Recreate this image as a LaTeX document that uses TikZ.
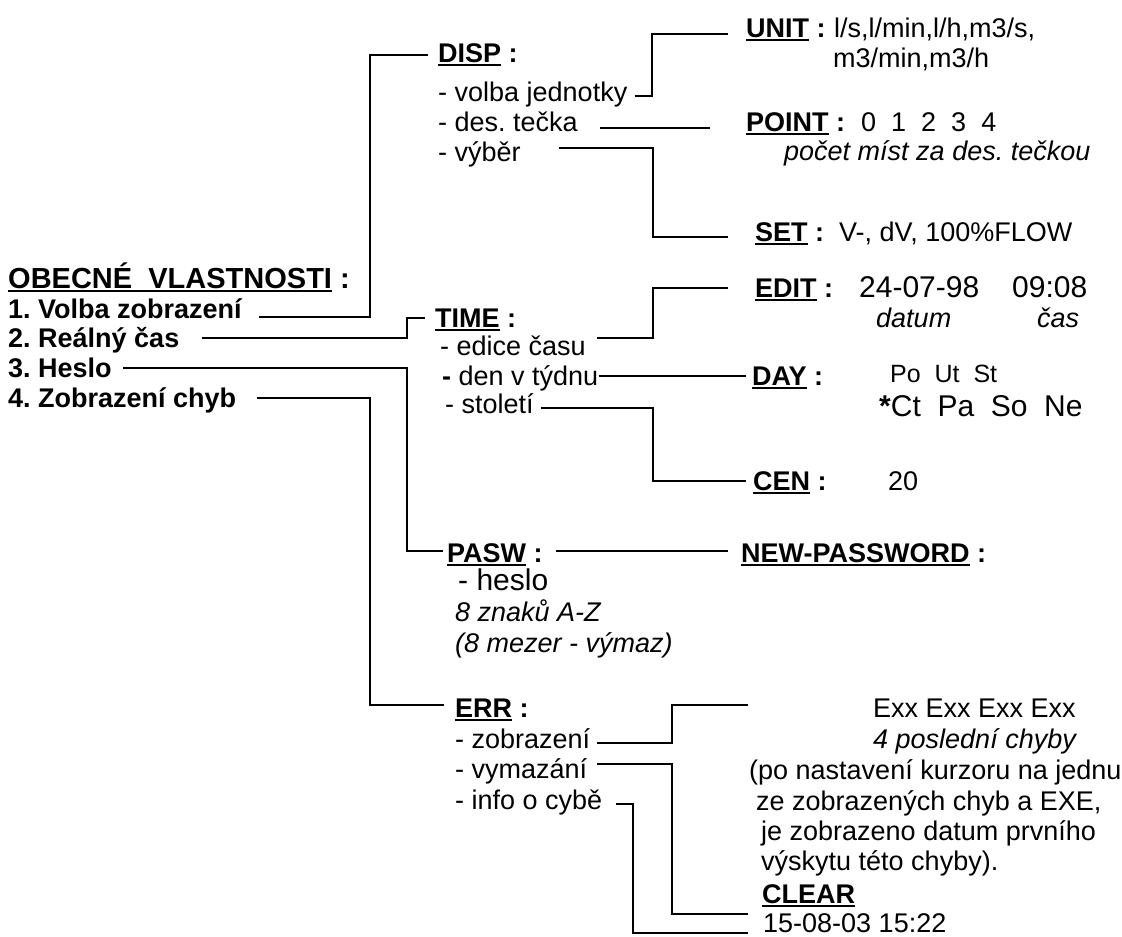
\documentclass[tikz,border=0pt]{standalone}
\usepackage{fontspec}
\setmainfont{Liberation Sans}
\usetikzlibrary{calc}
\frenchspacing

\newcommand\undl[1]{\setbox0\hbox{#1}\rlap{\rule[-3.5pt]{\wd0}{1.8pt}}\box0\relax}

\tikzset{
  lbl/.style={anchor=base west, inner sep=0pt, font=\fontsize{27}{32}\selectfont},
  hd/.style={lbl, font=\bfseries\fontsize{27}{32}\selectfont},
  big/.style={lbl, font=\fontsize{30}{36}\selectfont},
  small/.style={lbl, font=\fontsize{25}{30}\selectfont},
  note/.style={lbl, font=\itshape\fontsize{27}{32}\selectfont},
  wire/.style={line width=2.4pt}
}

\begin{document}
\begin{tikzpicture}[x=1pt,y=-1pt]
\useasboundingbox (0,0) rectangle (1122,937);

% hlavni menu
\node[hd, font=\bfseries\fontsize{29}{34}\selectfont] (obec) at (8,288) {\undl{OBECNÉ\ \ VLASTNOSTI} :};
\node[hd] (i1) at (8,318) {1. Volba zobrazení};
\node[hd] (i2) at (8,347) {2. Reálný čas};
\node[hd] (i3) at (8,377) {3. Heslo};
\node[hd] (i4) at (8,407) {4. Zobrazení chyb};

% DISP
\node[hd] (disp) at (438,62) {\undl{DISP} :};
\node[lbl] (d1) at (438,101) {- volba jednotky};
\node[lbl] (d2) at (438,131) {- des. tečka};
\node[lbl] (d3) at (438,161) {- výběr};

\node[hd] (unit) at (746,37) {\undl{UNIT} :};
\node[lbl] (unitv) at (834,37) {l/s,l/min,l/h,m3/s,};
\node[lbl] (unitw) at (833,67) {m3/min,m3/h};
\node[hd] (point) at (746,131) {\undl{POINT} :};
\node[lbl] (pointv) at (861,131) {0\ \ 1\ \ 2\ \ 3\ \ 4};
\node[note] (pocet) at (784,160) {počet míst za des. tečkou};
\node[hd] (set) at (755,241) {\undl{SET} :};
\node[lbl] (setv) at (839,241) {V-, dV, 100\%FLOW};

% TIME
\node[hd] (time) at (435,327) {\undl{TIME} :};
\node[lbl] (t1) at (440,355) {- edice času};
\node[lbl] (t2) at (442,385) {{\bfseries -} den v týdnu};
\node[lbl] (t3) at (445,413) {- století};

\node[hd] (edit) at (755,297) {\undl{EDIT} :};
\node[big] (editd) at (859,297) {24-07-98};
\node[big] (editt) at (1012,297) {09:08};
\node[note] (datum) at (876,327) {datum};
\node[note] (cas) at (1037,327) {čas};
\node[hd] (day) at (752,385) {\undl{DAY} :};
\node[small] (dny1) at (890,382) {Po\ \ Ut\ \ St};
\node[big] (dny2) at (879,416) {{\bfseries *}Ct\ \ Pa\ \ So\ \ Ne};
\node[hd] (cen) at (753,490) {\undl{CEN} :};
\node[lbl] (cenv) at (888,490) {20};

% PASW
\node[hd] (pasw) at (447,562) {\undl{PASW} :};
\node[hd] (newpw) at (741,562) {\undl{NEW-PASSWORD} :};
\node[big] (heslo) at (458,590) {- heslo};
\node[note] (znaku) at (455,621) {8 znaků A-Z};
\node[note] (mezer) at (455,652) {(8 mezer - výmaz)};

% ERR
\node[hd] (err) at (455,717) {\undl{ERR} :};
\node[lbl] (e1) at (455,748) {- zobrazení};
\node[lbl] (e2) at (455,778) {- vymazání};
\node[lbl] (e3) at (455,809) {- info o cybě};

\node[lbl] (exx) at (873,717) {Exx Exx Exx Exx};
\node[note] (posl) at (873,748) {4 poslední chyby};
\node[lbl] (r1) at (749,779) {(po nastavení kurzoru na jednu};
\node[lbl] (r2) at (756,810) {ze zobrazených chyb a EXE,};
\node[lbl] (r3) at (761,840) {je zobrazeno datum prvního};
\node[lbl] (r4) at (761,870) {výskytu této chyby).};
\node[hd] (clear) at (762,903) {\undl{CLEAR}};
\node[lbl] (date) at (763,932) {15-08-03 15:22};

% spojnice
\draw[wire] ($(i1.base east)+(17,-1)$) -| ($(disp.base west)+(-68,-7)$) -- ($(disp.base west)+(-10,-7)$);
\draw[wire] ($(i2.base east)+(22,-9)$) -| ($(time.base west)+(-28,-9)$) -- ($(time.base west)+(-10,-9)$);
\draw[wire] ($(i3.base east)+(11,-9)$) -| ($(pasw.base west)+(-40,-11)$) -- ($(pasw.base west)+(-4,-11)$);
\draw[wire] ($(i4.base east)+(21,-9)$) -| ($(err.base west)+(-85,-12)$) -- ($(err.base west)+(-11,-12)$);

\draw[wire] ($(d1.base east)+(7,-5)$) -| ($(unit.base west)+(-94,-3)$) -- ($(unit.base west)+(-18,-3)$);
\draw[wire] ($(d2.base east)+(22,-3)$) -- ($(point.base west)+(-36,-3)$);
\draw[wire] ($(d3.base east)+(38,-13)$) -| ($(set.base west)+(-102,-4)$) -- ($(set.base west)+(-27,-4)$);

\draw[wire] ($(t1.base east)+(11,-17)$) -| ($(edit.base west)+(-102,-9)$) -- ($(edit.base west)+(-27,-9)$);
\draw[wire] ($(t2.base east)+(0,-9)$) -- ($(day.base west)+(-6,-9)$);
\draw[wire] ($(t3.base east)+(7,-5)$) -| ($(cen.base west)+(-100,-9)$) -- ($(cen.base west)+(-7,-9)$);

\draw[wire] ($(pasw.base east)+(13,-11)$) -- ($(newpw.base west)+(-13,-11)$);

\draw[wire] ($(e1.base east)+(7,-5)$) -| ($(exx.base west)+(-201,-12)$) -- ($(exx.base west)+(-125,-12)$);
\draw[wire] ($(e2.base east)+(10,-14)$) -| ($(date.base west)+(-91,-18)$) -- ($(date.base west)+(-15,-18)$);
\draw[wire] ($(e3.base east)+(14,-5)$) -| ($(date.base west)+(-130,1)$) -- ($(date.base west)+(-15,1)$);
\end{tikzpicture}
\end{document}
